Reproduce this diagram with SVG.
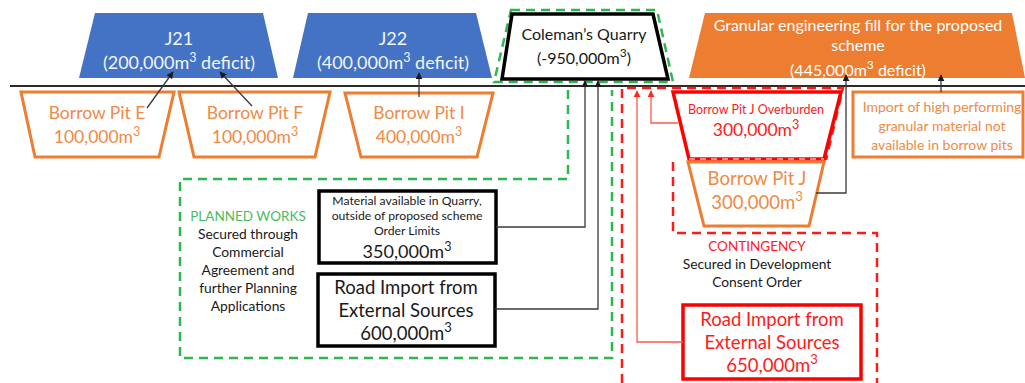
<svg xmlns="http://www.w3.org/2000/svg" width="1025" height="383" viewBox="0 0 1025 383">
  <style>
    text { font-family: Lato, "Open Sans", "Liberation Sans", sans-serif; text-anchor: middle; }
    .blue { fill: #4472C4; stroke: none; }
    .fillorange { fill: #ED7D31; stroke: none; }
    .wt { fill: #FFFFFF; font-size: 16px; }
    .jt { fill: #F2F5FB; font-size: 18px; }
    .pit { fill: #FFFFFF; stroke: #ED7D31; stroke-width: 3; stroke-linejoin: miter; }
    .ot { fill: #F08A45; }
    .blk { fill: #FFFFFF; stroke: #000000; stroke-width: 3.5; }
    .kt { fill: #1A1A1A; }
    .red { fill: #FFFFFF; stroke: #FF0000; stroke-width: 3.5; }
    .rt { fill: #FF1A1A; }
    .gdash { fill: none; stroke: #2DB84D; stroke-width: 2.5; stroke-dasharray: 9 6; }
    .rdash { fill: none; stroke: #FF1A1A; stroke-width: 2.5; stroke-dasharray: 9 6; }
    .conn { fill: none; stroke: #3A3A3A; stroke-width: 1.3; }
    .rconn { fill: none; stroke: #FF5A4A; stroke-width: 1.3; }
    .ground { stroke: #2A2A2A; stroke-width: 2; }
  </style>
  <defs>
    <marker id="ah" viewBox="0 0 10 10" refX="9" refY="5" markerWidth="7" markerHeight="7" orient="auto-start-reverse" markerUnits="userSpaceOnUse">
      <path d="M0,0 L10,5 L0,10 z" fill="#1A1A1A"/>
    </marker>
    <marker id="ahr" viewBox="0 0 10 10" refX="9" refY="5" markerWidth="7" markerHeight="7" orient="auto-start-reverse" markerUnits="userSpaceOnUse">
      <path d="M0,0 L10,5 L0,10 z" fill="#FF2A1A"/>
    </marker>
  </defs>

  <rect width="1025" height="383" fill="#FFFFFF"/>

  <!-- ground line -->
  <line class="ground" x1="10" y1="86" x2="1025" y2="86"/>

  <!-- works boundaries -->
  <g id="boundaries">
    <polyline class="gdash" points="568,90 568,179 180,179 180,358 612,358 612,90"/>
    <polygon class="gdash" points="511,10 657,10 673,82 494,82"/>
    <polyline class="rdash" points="622,383 622,88 843,88 826,160"/>
    <polyline class="rdash" points="673,162 673,233 877,233 877,383"/>
  </g>

  <!-- demand -->
  <g id="j21">
    <polygon class="blue" points="95,13 263,13 278,78 79,78"/>
    <text class="jt" x="179" y="45">J21</text>
    <text class="jt" x="179" y="69">(200,000m<tspan font-size="12.5" baseline-shift="super">3</tspan> deficit)</text>
  </g>
  <g id="j22">
    <polygon class="blue" points="308,13 476,13 492,78 293,78"/>
    <text class="jt" x="393" y="45">J22</text>
    <text class="jt" x="393" y="69">(400,000m<tspan font-size="12.5" baseline-shift="super">3</tspan> deficit)</text>
  </g>
  <g id="colemans-quarry">
    <polygon class="blk" points="512,14 653,14 668,79 502,79"/>
    <text class="kt" x="584" y="40" font-size="16">Coleman’s Quarry</text>
    <text class="kt" x="584" y="64" font-size="16">(-950,000m<tspan font-size="12" baseline-shift="super">3</tspan>)</text>
  </g>
  <g id="granular-fill">
    <polygon class="fillorange" points="705,13 1012,13 1025,78 689,78"/>
    <text class="wt" x="858" y="31">Granular engineering fill for the proposed</text>
    <text class="wt" x="858" y="51">scheme</text>
    <text class="wt" x="858" y="76">(445,000m<tspan font-size="12" baseline-shift="super">3</tspan> deficit)</text>
  </g>

  <!-- borrow pits -->
  <g id="pit-e">
    <polygon class="pit" points="21,92 174,92 159,157 35,157"/>
    <text class="ot" x="97" y="119" font-size="17.5">Borrow Pit E</text>
    <text class="ot" x="97" y="143" font-size="17.5">100,000m<tspan font-size="12.5" baseline-shift="super">3</tspan></text>
  </g>
  <g id="pit-f">
    <polygon class="pit" points="179,92 330,92 315,157 194,157"/>
    <text class="ot" x="255" y="119" font-size="17.5">Borrow Pit F</text>
    <text class="ot" x="255" y="143" font-size="17.5">100,000m<tspan font-size="12.5" baseline-shift="super">3</tspan></text>
  </g>
  <g id="pit-i">
    <polygon class="pit" points="345,93 493,93 477,157 361,157"/>
    <text class="ot" x="419" y="119" font-size="17.5">Borrow Pit I</text>
    <text class="ot" x="419" y="143" font-size="17.5">400,000m<tspan font-size="12.5" baseline-shift="super">3</tspan></text>
  </g>
  <g id="pit-j-overburden">
    <polygon class="red" points="673,92 841,92 824,159 689,159"/>
    <line x1="689" y1="159" x2="824" y2="159" stroke="#FFFFFF" stroke-width="1.2" stroke-dasharray="6 5"/>
    <text class="rt" x="756" y="114" font-size="12.5">Borrow Pit J Overburden</text>
    <text class="rt" x="756" y="136" font-size="17.5">300,000m<tspan font-size="12.5" baseline-shift="super">3</tspan></text>
  </g>
  <g id="pit-j">
    <polygon class="pit" points="688,162 824,162 809,226 704,226"/>
    <text class="ot" x="757" y="185" font-size="18.5">Borrow Pit J</text>
    <text class="ot" x="757" y="209" font-size="18.5">300,000m<tspan font-size="13" baseline-shift="super">3</tspan></text>
  </g>
  <g id="granular-import">
    <rect x="853" y="92" width="170" height="65" fill="#FFFFFF" stroke="#ED7D31" stroke-width="3"/>
    <text class="ot" x="942" y="112" font-size="14">Import of high performing</text>
    <text class="ot" x="942" y="131" font-size="14">granular material not</text>
    <text class="ot" x="942" y="150" font-size="14">available in borrow pits</text>
  </g>

  <!-- planned works -->
  <g id="planned-works">
    <text x="248" y="221" font-size="13.5" fill="#4CBB5C">PLANNED WORKS</text>
    <text class="kt" x="248" y="239" font-size="13.8">Secured through</text>
    <text class="kt" x="248" y="257" font-size="13.8">Commercial</text>
    <text class="kt" x="248" y="275" font-size="13.8">Agreement and</text>
    <text class="kt" x="248" y="293" font-size="13.8">further Planning</text>
    <text class="kt" x="248" y="311" font-size="13.8">Applications</text>
  </g>
  <g id="quarry-material">
    <rect class="blk" x="319" y="191" width="177" height="72"/>
    <text class="kt" x="407" y="205" font-size="12.2">Material available in Quarry,</text>
    <text class="kt" x="407" y="220" font-size="12.2">outside of proposed scheme</text>
    <text class="kt" x="407" y="235" font-size="12.2">Order Limits</text>
    <text class="kt" x="407" y="258" font-size="18">350,000m<tspan font-size="12.5" baseline-shift="super">3</tspan></text>
  </g>
  <g id="road-import-600">
    <rect class="blk" x="318" y="274" width="177" height="72"/>
    <text class="kt" x="406" y="294" font-size="18.5">Road Import from</text>
    <text class="kt" x="406" y="317" font-size="18.5">External Sources</text>
    <text class="kt" x="406" y="340" font-size="18.5">600,000m<tspan font-size="13" baseline-shift="super">3</tspan></text>
  </g>

  <!-- contingency -->
  <g id="contingency">
    <text class="rt" x="757" y="251" font-size="13.5">CONTINGENCY</text>
    <text class="kt" x="757" y="269" font-size="13.8">Secured in Development</text>
    <text class="kt" x="757" y="287" font-size="13.8">Consent Order</text>
  </g>
  <g id="road-import-650">
    <rect class="red" x="683" y="305" width="178" height="74"/>
    <text class="rt" x="772" y="326" font-size="18.5">Road Import from</text>
    <text class="rt" x="772" y="349" font-size="18.5">External Sources</text>
    <text class="rt" x="772" y="372" font-size="18.5">650,000m<tspan font-size="13" baseline-shift="super">3</tspan></text>
  </g>

  <!-- connectors -->
  <g id="connectors">
    <line class="conn" x1="147" y1="108" x2="173" y2="72" marker-end="url(#ah)"/>
    <line class="conn" x1="252" y1="106" x2="220" y2="72" marker-end="url(#ah)"/>
    <line class="conn" x1="419" y1="97" x2="419" y2="73" marker-end="url(#ah)"/>
    <polyline class="conn" points="496,227 585,227 585,81" marker-end="url(#ah)"/>
    <polyline class="conn" points="495,309 598,309 598,81" marker-end="url(#ah)"/>
    <polyline class="conn" points="816,193 846,193 846,75" marker-end="url(#ah)"/>
    <line class="conn" x1="941" y1="92" x2="941" y2="75" marker-end="url(#ah)"/>
    <polyline class="rconn" points="683,342 637,342 637,91" marker-end="url(#ahr)"/>
    <polyline class="rconn" points="678,123 651,123 651,91" marker-end="url(#ahr)"/>
  </g>
</svg>
